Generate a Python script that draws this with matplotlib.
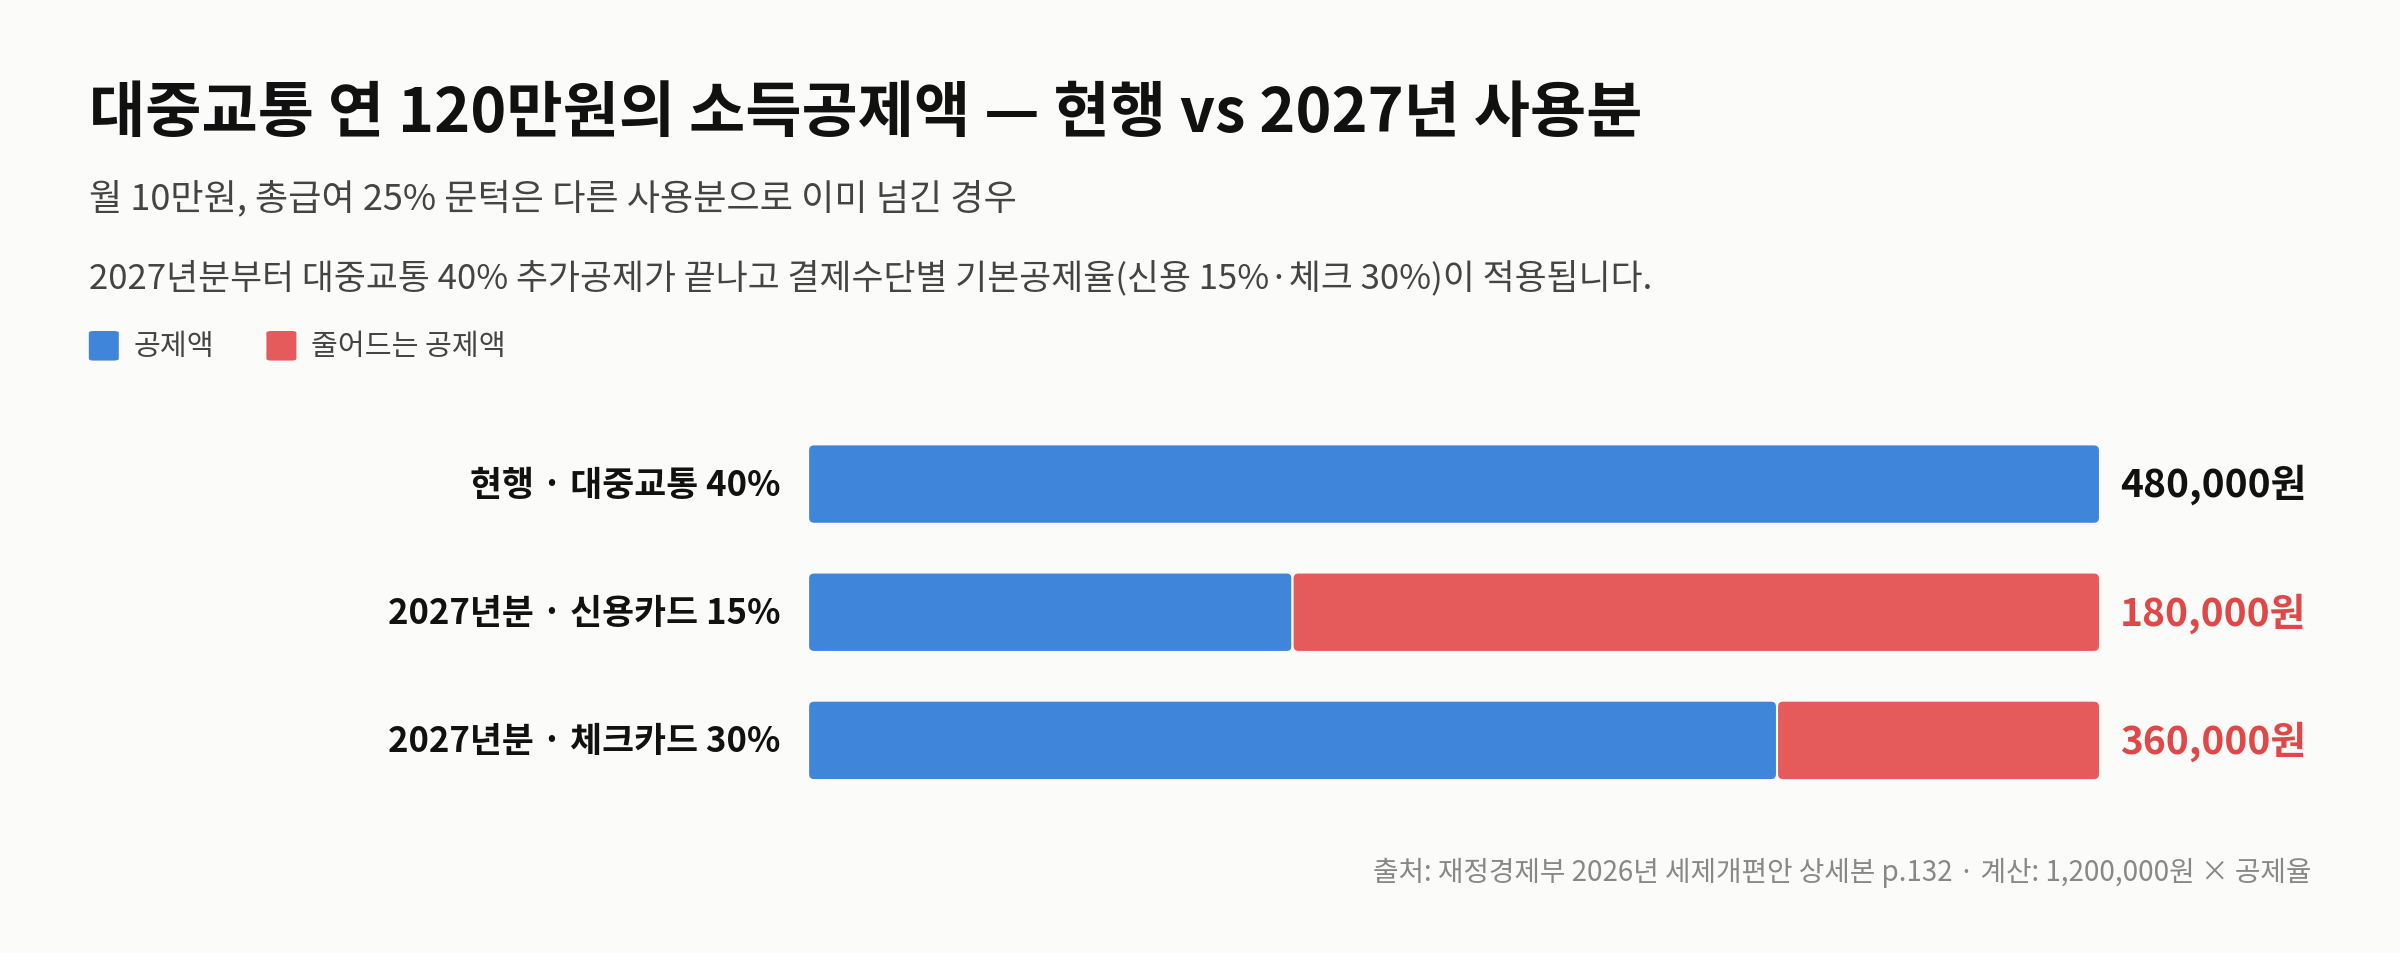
import matplotlib
matplotlib.use("Agg")
import matplotlib.pyplot as plt
from matplotlib.patches import FancyBboxPatch

plt.rcParams['font.family'] = ['Noto Sans CJK KR', 'DejaVu Sans']

categories = ["현행 · 대중교통 40%", "2027년분 · 신용카드 15%", "2027년분 · 체크카드 30%"]
deduction = [480000, 180000, 360000]
reduced = [0, 300000, 120000]
value_labels = ["480,000원", "180,000원", "360,000원"]
value_colors = ["#111111", "#e04848", "#e04848"]

BLUE = "#3f86db"
RED = "#e55a5a"
BG = "#fbfbf9"

fig = plt.figure(figsize=(24, 9.54), dpi=100, facecolor=BG)
ax = fig.add_axes([0.3367, 0.1557, 0.5383, 0.403])
ax.set_facecolor(BG)
total = max(d + r for d, r in zip(deduction, reduced))
ax.set_xlim(0, total)
ax.set_ylim(2.5, -0.5)
ax.axis('off')

h = 0.62
xpp = total / (0.5383 * 2400)
ypp = 3 / (0.403 * 954)
rs = 6 * xpp
asp = ypp / xpp

def rbar(x0, w, y, color):
    p = FancyBboxPatch((x0, y - h / 2), w, h,
                       boxstyle=f"round,pad=0,rounding_size={rs}",
                       mutation_aspect=asp, facecolor=color,
                       edgecolor=BG, linewidth=1.5)
    ax.add_patch(p)

for i, (d, r) in enumerate(zip(deduction, reduced)):
    rbar(0, d, i, BLUE)
    if r > 0:
        rbar(d, r, i, RED)
    ax.text(d + r + 20 * xpp, i, value_labels[i], va='center', ha='left',
            fontsize=28, fontweight='bold', color=value_colors[i])
    fig.text(0.325, ax.transData.transform((0, i))[1] / 954, categories[i],
             ha='right', va='center', fontsize=25, fontweight='bold', color='#111111')

fig.text(0.037, 0.88, "대중교통 연 120만원의 소득공제액 — 현행 vs 2027년 사용분",
         fontsize=44, fontweight='bold', color='#111111', va='center')
fig.text(0.037, 0.792, "월 10만원, 총급여 25% 문턱은 다른 사용분으로 이미 넘긴 경우",
         fontsize=26, color='#444444', va='center')
fig.text(0.037, 0.708, "2027년분부터 대중교통 40% 추가공제가 끝나고 결제수단별 기본공제율(신용 15%·체크 30%)이 적용됩니다.",
         fontsize=25, color='#444444', va='center')

# legend
for x0, col, lab in [(0.037, BLUE, "공제액"), (0.111, RED, "줄어드는 공제액")]:
    fig.patches.append(FancyBboxPatch((x0, 0.621), 0.0125, 0.031,
                                      boxstyle="round,pad=0,rounding_size=0.002",
                                      transform=fig.transFigure, facecolor=col,
                                      edgecolor='none', figure=fig))
    fig.text(x0 + 0.0185, 0.636, lab, fontsize=21, color='#444444', va='center')

fig.text(0.963, 0.085, "출처: 재정경제부 2026년 세제개편안 상세본 p.132 · 계산: 1,200,000원 × 공제율",
         fontsize=20, color='#888888', ha='right', va='center')

fig.savefig("out.png", dpi=100, facecolor=BG)
